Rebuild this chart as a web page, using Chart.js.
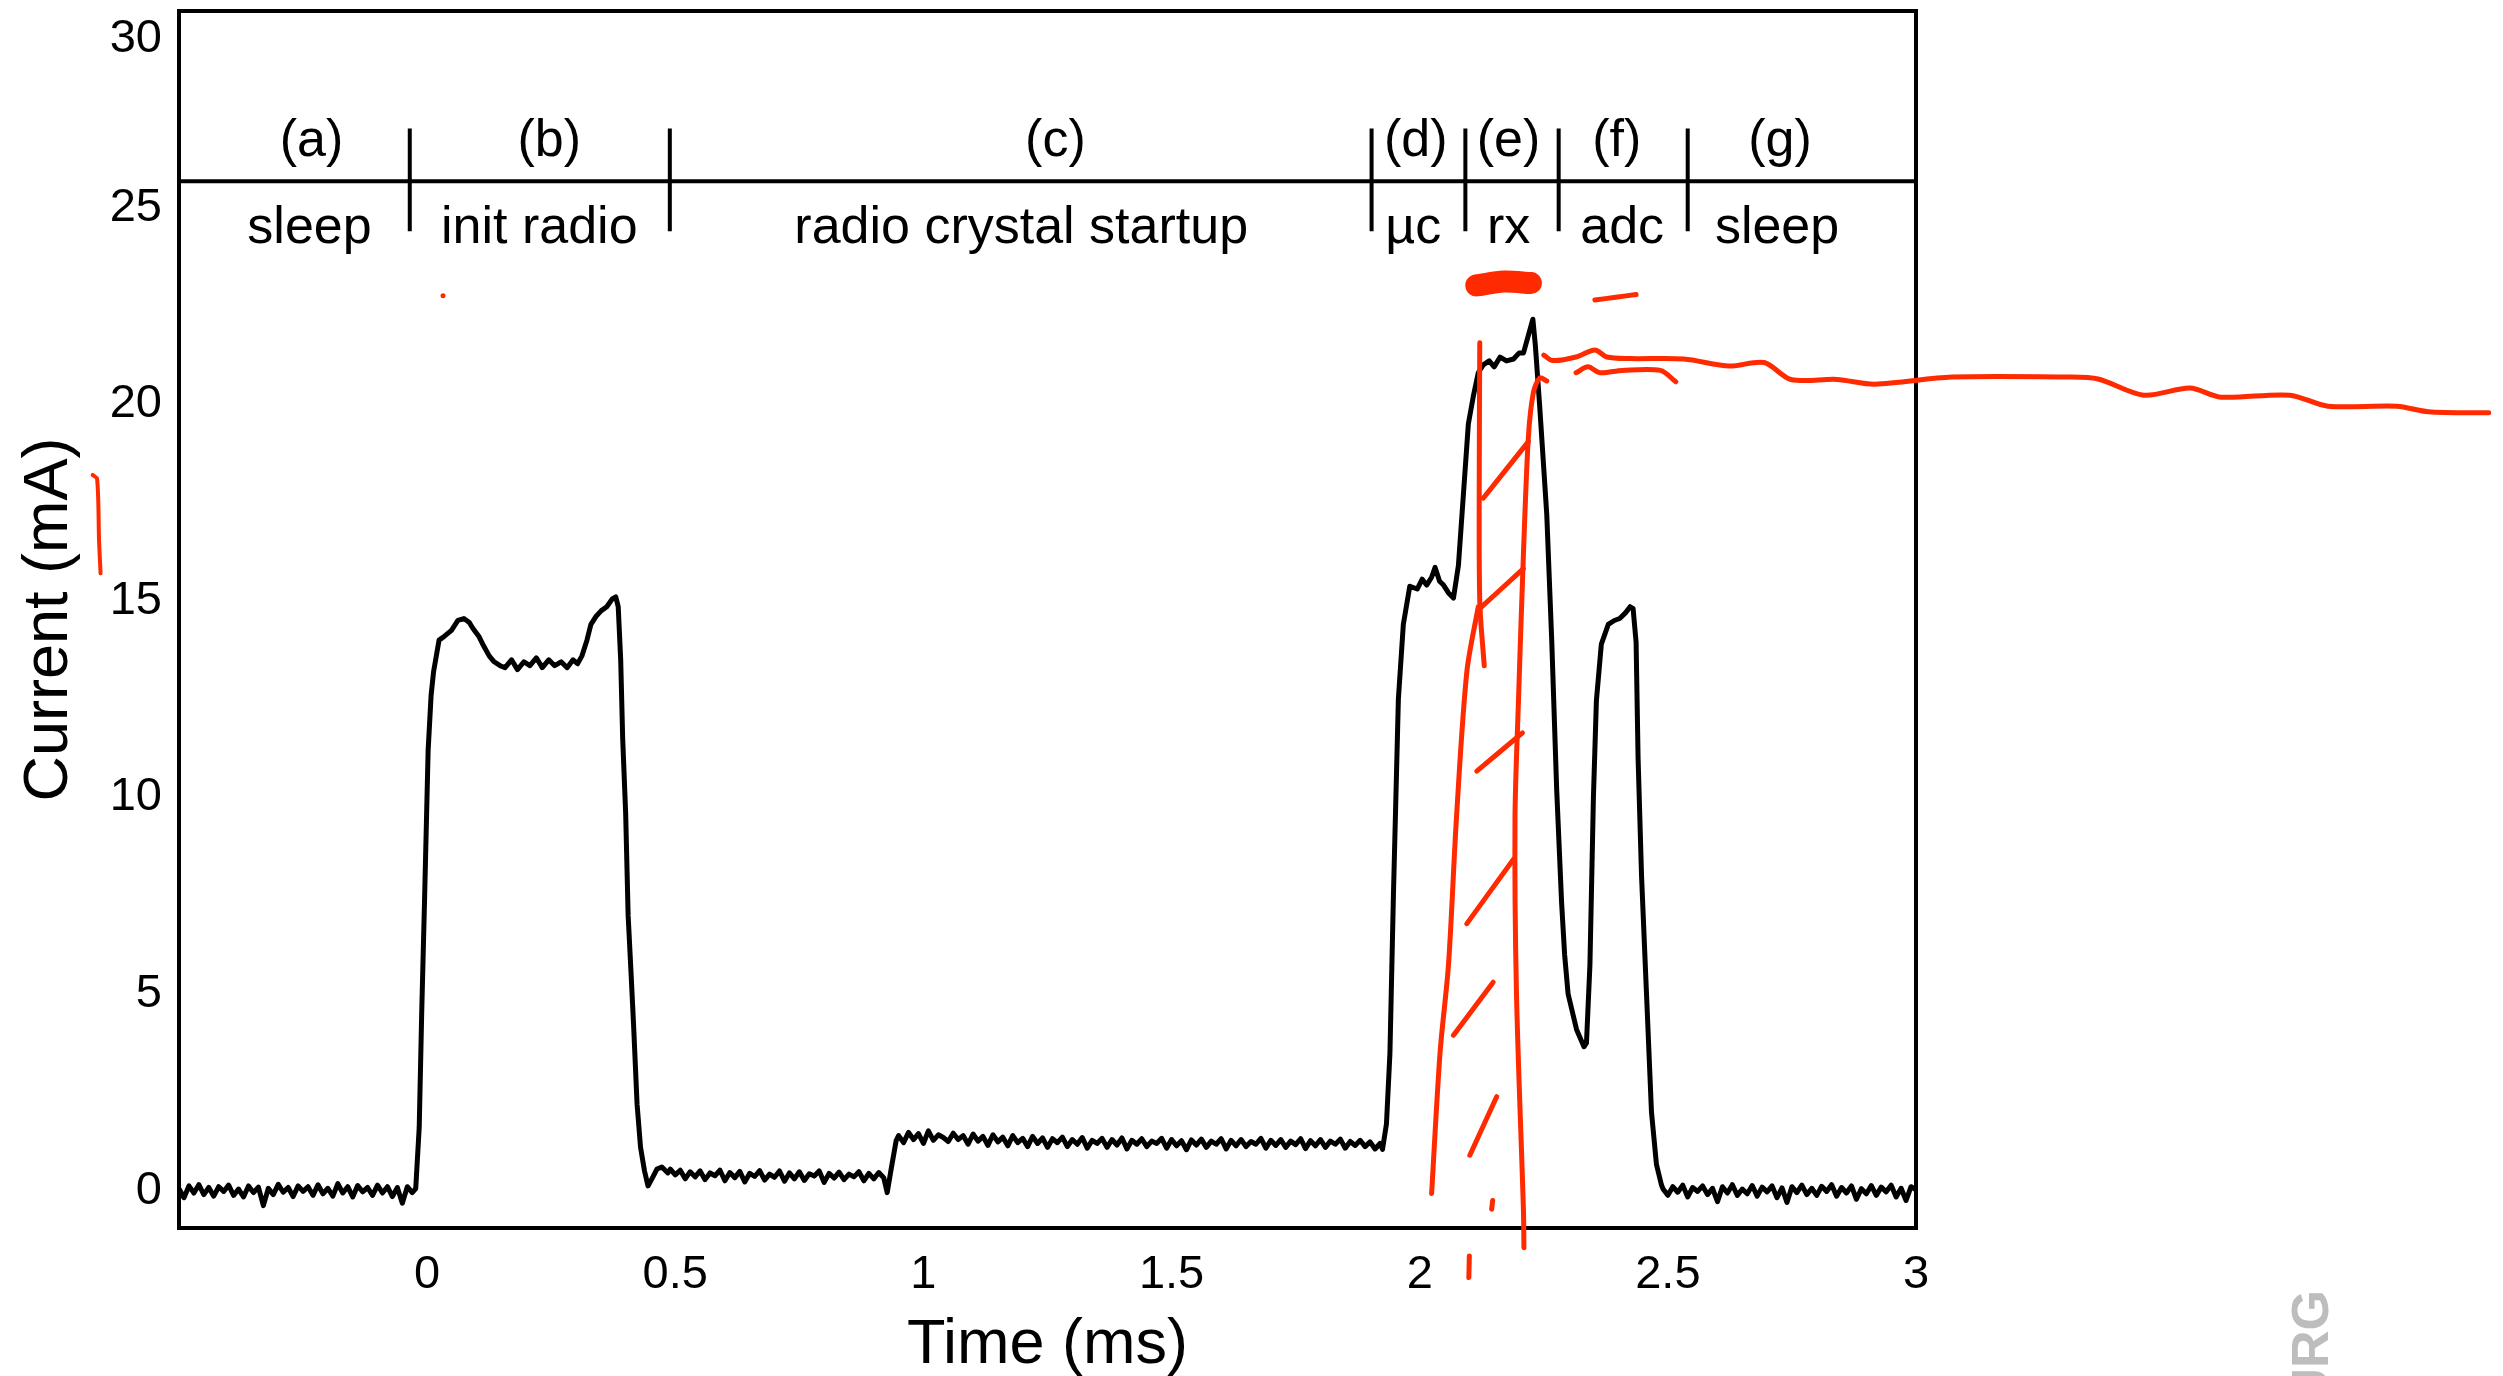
<!DOCTYPE html>
<html>
<head>
<meta charset="utf-8">
<title>Current trace</title>
<script src="https://cdn.jsdelivr.net/npm/chart.js@4.4.1/dist/chart.umd.min.js"></script>
<style>
html, body { margin: 0; padding: 0; background: #fff; }
canvas { display: block; }
</style>
</head>
<body>
<canvas id="currentChart" width="2503" height="1376"></canvas>
<script>
// measured trace, time in ms / current in mA
var timeMs = [
	-0.50, -0.49, -0.48, -0.47, -0.46, -0.45, -0.44, -0.43, -0.42, -0.41,
	-0.40, -0.39, -0.38, -0.37, -0.36, -0.35, -0.34, -0.33, -0.32, -0.31,
	-0.30, -0.29, -0.28, -0.27, -0.26, -0.25, -0.24, -0.23, -0.22, -0.21,
	-0.20, -0.19, -0.18, -0.17, -0.16, -0.15, -0.14, -0.13, -0.12, -0.11,
	-0.10, -0.09, -0.08, -0.07, -0.06, -0.05, -0.04, -0.03,
	-0.023, -0.016, -0.011, -0.005, 0.002, 0.008, 0.013, 0.024, 0.035, 0.049,
	0.062, 0.074, 0.085, 0.092, 0.104, 0.114, 0.125, 0.135, 0.147, 0.157,
	0.170, 0.182, 0.195, 0.207, 0.220, 0.232, 0.245, 0.257, 0.270, 0.282,
	0.294, 0.303, 0.312, 0.322, 0.330, 0.340, 0.351, 0.362, 0.373, 0.380,
	0.385, 0.390, 0.394, 0.400, 0.405, 0.411, 0.416, 0.423, 0.430, 0.438,
	0.445, 0.455, 0.463, 0.473, 0.485,
	0.49, 0.50, 0.51, 0.52, 0.53, 0.54, 0.55, 0.56, 0.57, 0.58,
	0.59, 0.60, 0.61, 0.62, 0.63, 0.64, 0.65, 0.66, 0.67, 0.68,
	0.69, 0.70, 0.71, 0.72, 0.73, 0.74, 0.75, 0.76, 0.77, 0.78,
	0.79, 0.80, 0.81, 0.82, 0.83, 0.84, 0.85, 0.86, 0.87, 0.88,
	0.89, 0.90, 0.91, 0.92,
	0.927, 0.935, 0.945,
	0.95, 0.96, 0.97, 0.98, 0.99, 1.00, 1.01, 1.02, 1.03, 1.04,
	1.05, 1.06, 1.07, 1.08, 1.09, 1.10, 1.11, 1.12, 1.13, 1.14,
	1.15, 1.16, 1.17, 1.18, 1.19, 1.20, 1.21, 1.22, 1.23, 1.24,
	1.25, 1.26, 1.27, 1.28, 1.29, 1.30, 1.31, 1.32, 1.33, 1.34,
	1.35, 1.36, 1.37, 1.38, 1.39, 1.40, 1.41, 1.42, 1.43, 1.44,
	1.45, 1.46, 1.47, 1.48, 1.49, 1.50, 1.51, 1.52, 1.53, 1.54,
	1.55, 1.56, 1.57, 1.58, 1.59, 1.60, 1.61, 1.62, 1.63, 1.64,
	1.65, 1.66, 1.67, 1.68, 1.69, 1.70, 1.71, 1.72, 1.73, 1.74,
	1.75, 1.76, 1.77, 1.78, 1.79, 1.80, 1.81, 1.82, 1.83, 1.84,
	1.85, 1.86, 1.87, 1.88, 1.89, 1.90, 1.91, 1.92,
	1.925, 1.933, 1.940, 1.947, 1.957, 1.967, 1.980, 1.995, 2.005, 2.014,
	2.024, 2.031, 2.040, 2.048, 2.058, 2.068, 2.078, 2.088, 2.098, 2.108,
	2.118, 2.128, 2.140, 2.150, 2.162, 2.175, 2.189, 2.200, 2.209, 2.220,
	2.228, 2.233, 2.242, 2.256, 2.266, 2.276, 2.286, 2.292, 2.299, 2.316,
	2.331, 2.336, 2.343, 2.350, 2.356, 2.366, 2.380, 2.392, 2.403, 2.415,
	2.424, 2.430, 2.436, 2.440, 2.447, 2.457, 2.467, 2.477, 2.487,
	2.49, 2.50, 2.51, 2.52, 2.53, 2.54, 2.55, 2.56, 2.57, 2.58,
	2.59, 2.60, 2.61, 2.62, 2.63, 2.64, 2.65, 2.66, 2.67, 2.68,
	2.69, 2.70, 2.71, 2.72, 2.73, 2.74, 2.75, 2.76, 2.77, 2.78,
	2.79, 2.80, 2.81, 2.82, 2.83, 2.84, 2.85, 2.86, 2.87, 2.88,
	2.89, 2.90, 2.91, 2.92, 2.93, 2.94, 2.95, 2.96, 2.97, 2.98,
	2.99, 3.00
];
var currentMa = [
	0.05, -0.18, 0.12, -0.06, 0.15, -0.10, 0.08, -0.14, 0.10, -0.02,
	0.14, -0.12, 0.04, -0.16, 0.12, -0.05, 0.09, -0.38, 0.06, -0.10,
	0.16, -0.04, 0.08, -0.15, 0.12, -0.02, 0.10, -0.12, 0.15, -0.08,
	0.06, -0.14, 0.18, -0.06, 0.10, -0.16, 0.13, -0.03, 0.08, -0.12,
	0.14, -0.06, 0.10, -0.15, 0.08, -0.32, 0.10, -0.05,
	0.05, 1.6, 4.5, 7.5, 11.2, 12.6, 13.2, 14.0, 14.1, 14.25,
	14.5, 14.55, 14.45, 14.3, 14.1, 13.85, 13.6, 13.45, 13.35, 13.3,
	13.5, 13.25, 13.45, 13.35, 13.55, 13.3, 13.5, 13.35, 13.45, 13.3,
	13.5, 13.4, 13.6, 14.0, 14.4, 14.6, 14.75, 14.85, 15.05, 15.1,
	14.85, 13.5, 11.5, 9.6, 7.0, 5.5, 4.2, 2.2, 1.1, 0.5,
	0.12, 0.35, 0.55, 0.6, 0.45,
	0.55, 0.40, 0.52, 0.30, 0.48, 0.35, 0.50, 0.28, 0.45, 0.38,
	0.52, 0.25, 0.46, 0.33, 0.49, 0.22, 0.44, 0.36, 0.51, 0.27,
	0.42, 0.34, 0.50, 0.24, 0.45, 0.30, 0.48, 0.26, 0.43, 0.37,
	0.50, 0.21, 0.44, 0.32, 0.47, 0.28, 0.42, 0.35, 0.48, 0.25,
	0.44, 0.30, 0.46, 0.33,
	-0.05, 0.55, 1.27,
	1.40, 1.22, 1.48, 1.30, 1.45, 1.20, 1.52, 1.28, 1.42, 1.35,
	1.25, 1.46, 1.30, 1.40, 1.18, 1.44, 1.26, 1.38, 1.15, 1.42,
	1.24, 1.36, 1.14, 1.40, 1.22, 1.33, 1.12, 1.38, 1.20, 1.34,
	1.10, 1.32, 1.22, 1.36, 1.12, 1.30, 1.18, 1.35, 1.08, 1.28,
	1.20, 1.33, 1.10, 1.30, 1.16, 1.34, 1.06, 1.28, 1.18, 1.32,
	1.12, 1.26, 1.20, 1.33, 1.08, 1.30, 1.14, 1.27, 1.04, 1.29,
	1.16, 1.31, 1.10, 1.26, 1.18, 1.32, 1.06, 1.28, 1.14, 1.30,
	1.12, 1.25, 1.18, 1.33, 1.08, 1.28, 1.15, 1.30, 1.10, 1.26,
	1.17, 1.32, 1.07, 1.27, 1.14, 1.30, 1.10, 1.26, 1.18, 1.31,
	1.08, 1.25, 1.15, 1.28, 1.12, 1.24, 1.06, 1.20,
	1.05, 1.7, 3.5, 7.5, 12.5, 14.4, 15.37, 15.3, 15.55, 15.4,
	15.6, 15.85, 15.5, 15.4, 15.2, 15.07, 15.9, 17.7, 19.5, 20.2,
	20.8, 21.0, 21.1, 20.95, 21.2, 21.1, 21.15, 21.3, 21.3, 21.8,
	22.16, 21.5, 19.9, 17.2, 14.0, 10.2, 7.3, 6.0, 5.0, 4.1,
	3.66, 3.75, 5.75, 10.0, 12.46, 13.9, 14.4, 14.5, 14.55, 14.7,
	14.85, 14.8, 13.95, 11.0, 8.0, 5.0, 2.0, 0.67, 0.15,
	0.05, -0.12, 0.10, -0.04, 0.14, -0.16, 0.08, -0.02, 0.12, -0.10,
	0.06, -0.28, 0.10, -0.06, 0.15, -0.12, 0.04, -0.08, 0.13, -0.14,
	0.09, -0.03, 0.12, -0.18, 0.07, -0.30, 0.10, -0.05, 0.14, -0.10,
	0.06, -0.12, 0.11, -0.02, 0.15, -0.14, 0.08, -0.06, 0.12, -0.22,
	0.05, -0.08, 0.13, -0.12, 0.09, -0.03, 0.14, -0.16, 0.06, -0.25,
	0.10, 0.02
];

var xTicks = [0, 0.5, 1, 1.5, 2, 2.5, 3];
var yTicks = [0, 5, 10, 15, 20, 25, 30];

// phase band above the trace
var phaseLetters = ['(a)', '(b)', '(c)', '(d)', '(e)', '(f)', '(g)'];
var phaseNames = ['sleep', 'init radio', 'radio crystal startup', '\u00b5c', 'rx', 'adc', 'sleep'];
var phaseLetterT = [-0.233, 0.246, 1.266, 1.992, 2.179, 2.397, 2.726];
var phaseNameT = [-0.237, 0.226, 1.197, 1.987, 2.179, 2.408, 2.720];
var phaseSplitT = [-0.035, 0.489, 1.903, 2.092, 2.280, 2.540];

// red pen marks drawn on top of the figure
var rxLeftT = [2.024, 2.041, 2.058, 2.074, 2.095, 2.118];
var rxLeftMa = [-0.07, 3.51, 5.75, 9.47, 13.20, 14.85];
var rxInnerT = [2.121, 2.120, 2.121, 2.130];
var rxInnerMa = [21.56, 18.43, 14.99, 13.35];
var rxRightT = [2.210, 2.209, 2.195, 2.192, 2.199, 2.209, 2.219, 2.229, 2.242, 2.256];
var rxRightMa = [-1.45, -0.49, 5.0, 9.48, 12.46, 16.19, 19.17, 20.29, 20.67, 20.59];
var hatchT = [[2.128, 2.219], [2.118, 2.209], [2.115, 2.207], [2.095, 2.189], [2.068, 2.148], [2.101, 2.155], [2.145, 2.147], [2.099, 2.100]];
var hatchMa = [[17.61, 19.05], [14.77, 15.82], [10.67, 11.64], [6.79, 8.43], [3.95, 5.30], [0.90, 2.39], [-0.47, -0.25], [-2.21, -1.66]];
var waveT = [4.154, 4.032, 3.969, 3.830, 3.753, 3.614, 3.552, 3.459, 3.367, 3.304, 3.072, 2.917, 2.841, 2.748, 2.694, 2.624, 2.532, 2.424, 2.377, 2.353, 2.315, 2.268, 2.250];
var waveMa = [19.78, 19.81, 19.95, 19.95, 20.23, 20.18, 20.41, 20.23, 20.64, 20.69, 20.69, 20.51, 20.63, 20.63, 21.06, 20.97, 21.15, 21.16, 21.2, 21.38, 21.2, 21.11, 21.25];
var underT = [2.315, 2.339, 2.363, 2.408, 2.485, 2.516];
var underMa = [20.80, 20.95, 20.80, 20.86, 20.86, 20.57];
var blobT = [2.114, 2.170, 2.224];
var blobMa = [23.02, 23.12, 23.08];
var dashT = [2.353, 2.395, 2.436];
var dashMa = [22.65, 22.72, 22.79];
var sideMarkT = [-0.658, -0.661, -0.665, -0.674];
var sideMarkMa = [15.7, 16.5, 18.1, 18.2];
var dotT = [0.032];
var dotMa = [22.76];

var RED = '#ff2a00';
var FONT = '"Liberation Sans", Arial, Helvetica, sans-serif';

function toPoints(ts, vs) {
	return ts.map(function(t, i) { return { x: t, y: vs[i] }; });
}

function redStroke(ts, vs, width) {
	return {
		data: toPoints(ts, vs),
		borderColor: RED,
		borderWidth: width,
		borderCapStyle: 'round',
		borderJoinStyle: 'round',
		tension: 0.3,
		pointRadius: 0,
		clip: false,
		order: 0
	};
}

var datasets = [{
	label: 'Current',
	data: toPoints(timeMs, currentMa),
	borderColor: '#000',
	borderWidth: 5,
	borderJoinStyle: 'round',
	tension: 0,
	pointRadius: 0,
	order: 5
}];
datasets.push(redStroke(rxLeftT, rxLeftMa, 5));
datasets.push(redStroke(rxInnerT, rxInnerMa, 5));
datasets.push(redStroke(rxRightT, rxRightMa, 5));
for (var h = 0; h < hatchT.length; h++) {
	datasets.push(redStroke(hatchT[h], hatchMa[h], 5));
}
datasets.push(redStroke(waveT, waveMa, 5));
datasets.push(redStroke(underT, underMa, 5));
datasets.push(redStroke(blobT, blobMa, 22));
datasets.push(redStroke(dashT, dashMa, 5));
datasets.push(redStroke(sideMarkT, sideMarkMa, 4));
datasets.push({
	data: toPoints(dotT, dotMa),
	showLine: false,
	pointRadius: 2.5,
	pointBackgroundColor: RED,
	pointBorderWidth: 0,
	clip: false,
	order: 0
});

var figurePlugin = {
	id: 'figure',
	beforeDatasetsDraw: function(chart) {
		var c = chart.ctx, a = chart.chartArea;
		var xs = chart.scales.x, ys = chart.scales.y;
		c.save();
		c.strokeStyle = '#000';
		c.lineWidth = 4;
		c.strokeRect(a.left, a.top, a.right - a.left, a.bottom - a.top);
		c.beginPath();
		var yb = ys.getPixelForValue(25.67);
		c.moveTo(a.left, yb);
		c.lineTo(a.right, yb);
		phaseSplitT.forEach(function(t) {
			var px = xs.getPixelForValue(t);
			c.moveTo(px, ys.getPixelForValue(27.01));
			c.lineTo(px, ys.getPixelForValue(24.40));
		});
		c.stroke();
		c.fillStyle = '#000';
		c.font = '52px ' + FONT;
		c.textAlign = 'center';
		c.textBaseline = 'alphabetic';
		phaseLetters.forEach(function(s, i) {
			c.fillText(s, xs.getPixelForValue(phaseLetterT[i]), ys.getPixelForValue(26.31));
		});
		phaseNames.forEach(function(s, i) {
			c.fillText(s, xs.getPixelForValue(phaseNameT[i]), ys.getPixelForValue(24.09));
		});
		c.restore();
	},
	afterDraw: function(chart) {
		var c = chart.ctx;
		c.save();
		c.translate(2328, 1290);
		c.rotate(-Math.PI / 2);
		c.fillStyle = '#bdbdbd';
		c.font = 'bold 52px ' + FONT;
		c.textAlign = 'right';
		c.textBaseline = 'alphabetic';
		c.fillText('URG', 0, 0);
		c.restore();
	}
};

Chart.defaults.font.family = FONT;
Chart.defaults.color = '#000';

new Chart(document.getElementById('currentChart'), {
	type: 'line',
	data: { datasets: datasets },
	options: {
		responsive: false,
		animation: false,
		devicePixelRatio: 1,
		layout: { padding: { left: 0, top: 11, right: 587, bottom: 0 } },
		plugins: { legend: { display: false }, tooltip: { enabled: false } },
		scales: {
			x: {
				type: 'linear',
				min: -0.5,
				max: 3,
				grid: { display: false, drawTicks: false },
				border: { display: false },
				ticks: {
					font: { size: 47 },
					padding: 19,
					maxRotation: 0,
					callback: function(v) { return String(v); }
				},
				title: { display: true, text: 'Time (ms)', font: { size: 63 }, padding: { top: 0, bottom: -7 } },
				afterBuildTicks: function(s) { s.ticks = xTicks.map(function(v) { return { value: v }; }); },
				afterFit: function(s) {
					s.height = 148;
					s.paddingLeft = 0; s.paddingRight = 0; s.paddingTop = 0; s.paddingBottom = 0;
				}
			},
			y: {
				type: 'linear',
				min: -0.95,
				max: 30,
				grid: { display: false, drawTicks: false },
				border: { display: false },
				ticks: {
					font: { size: 47 },
					padding: 17,
					// top label sits below the frame corner
					callback: function(v) { return v === 30 ? ['', '30'] : String(v); }
				},
				title: { display: true, text: 'Current (mA)', font: { size: 63 }, padding: { top: 12, bottom: 0 } },
				afterBuildTicks: function(s) { s.ticks = yTicks.map(function(v) { return { value: v }; }); },
				afterFit: function(s) {
					s.width = 179;
					s.paddingLeft = 0; s.paddingRight = 0; s.paddingTop = 0; s.paddingBottom = 0;
				}
			}
		}
	},
	plugins: [figurePlugin]
});
</script>
</body>
</html>
